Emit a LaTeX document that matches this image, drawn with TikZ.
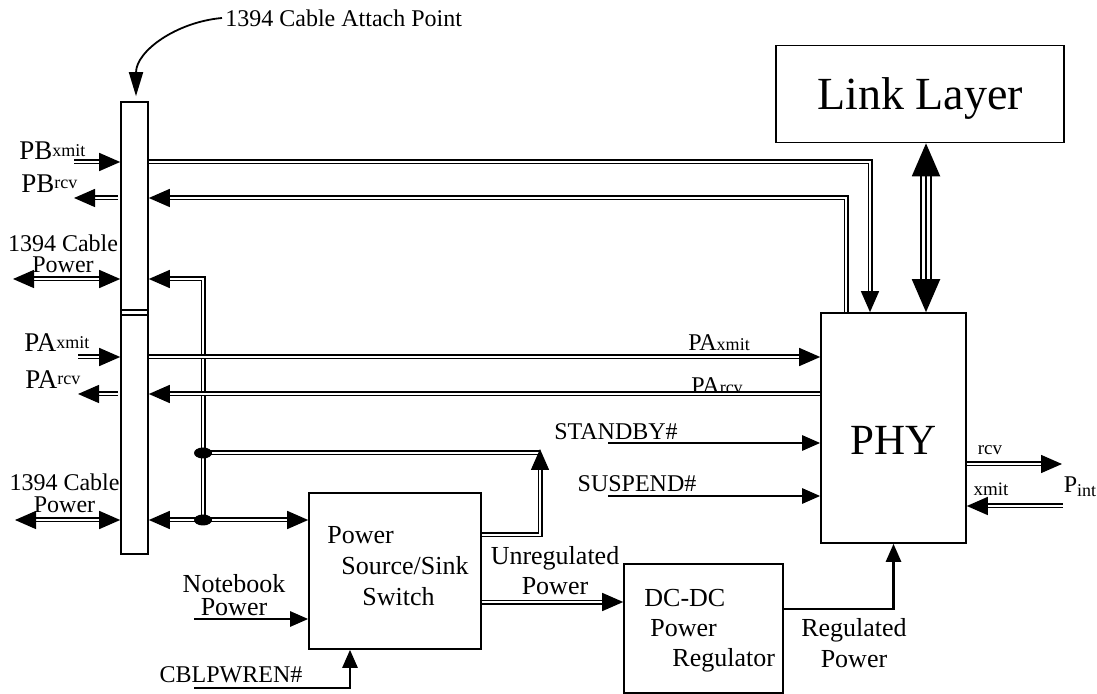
\documentclass[tikz,border=0pt]{standalone}
\usepackage{fontspec}
\setmainfont{Liberation Serif}
\usetikzlibrary{calc}
\usetikzlibrary{arrows.meta}
\newcommand{\portname}[3]{#1\raisebox{#3}{\fontsize{9}{9}\selectfont #2}}

\begin{document}
\begin{tikzpicture}[
		x=0.5pt, y=-0.5pt,
		box/.style = {draw, line width=0.8pt, inner sep=0pt},
		boxtext/.style = {inner sep=0pt, align=left, font=\fontsize{13}{15.5}\selectfont},
		txt/.style = {inner sep=0pt, align=center, font=\fontsize{12}{10.5}\selectfont},
		port/.style = {inner sep=0pt, font=\fontsize{13.5}{13.5}\selectfont},
		small/.style = {inner sep=0pt, font=\fontsize{9.5}{9.5}\selectfont},
		bus/.style = {
			double,
			line width=0.7pt,
			double distance=1.1pt,
			>={Triangle[length=10.5pt,width=9pt]}
		},
		bigbus/.style = {
			double,
			line width=1pt,
			double distance=4pt,
			>={Triangle[length=16.5pt,width=14pt]}
		},
		sig/.style = {
			line width=1.3pt,
			>={Triangle[length=9pt,width=7.5pt]}
		}
		]
		\useasboundingbox (0,0) rectangle (1097,694);

		\node[box, minimum width=13.5pt, minimum height=226pt] (bar) at (134.5,328) {};
		\node[box, minimum width=144pt, minimum height=48.5pt, text depth=0pt,
			font=\fontsize{23}{23}\selectfont] (link) at (920,94) {Link Layer};
		\node[box, minimum width=72.5pt, minimum height=115pt] (phy) at (893.5,428) {};
		\node[inner sep=0pt, font=\fontsize{21.5}{21.5}\selectfont] (phytext) at (893.5,440) {PHY};
		\node[box, minimum width=86pt, minimum height=78pt] (switch) at (395,571) {};
		\node[boxtext, anchor=west] (switchtext) at (327,566) {Power\\\hspace*{7pt}Source/Sink\\\hspace*{17.5pt}Switch};
		\node[box, minimum width=79.5pt, minimum height=64.5pt] (dcdc) at (703.5,628.5) {};
		\node[boxtext, anchor=west, font=\fontsize{13}{15}\selectfont] (dcdctext) at (644,631) {DC-DC\\\hspace*{3pt}Power\\\hspace*{14pt}Regulator};

		\node[txt, anchor=west] (attach) at (225,18) {1394 Cable Attach Point};
		\node[port, anchor=west] (pbx) at (19,151) {\portname{PB}{xmit}{1.5pt}};
		\node[port, anchor=west] (pbr) at (21,184) {\portname{PB}{rcv}{2pt}};
		\node[port, anchor=west] (pax) at (24,343) {\portname{PA}{xmit}{1.5pt}};
		\node[port, anchor=west] (par) at (25,380) {\portname{PA}{rcv}{2pt}};
		\node[txt] (cabletop) at (63,254) {1394 Cable\\Power};
		\node[txt, font=\fontsize{12}{11}\selectfont] (cablebot) at (64.5,493) {1394 Cable\\Power};
		\node[txt, font=\fontsize{13}{11.5}\selectfont] (notebook) at (234,595) {Notebook\\Power};
		\node[txt] (cblpwren) at (231,675) {CBLPWREN\#};
		\node[txt] (standby) at (616,432) {STANDBY\#};
		\node[txt] (suspend) at (637,484) {SUSPEND\#};
		\node[txt, font=\fontsize{13}{15}\selectfont] (unreg) at (555,571) {Unregulated\\Power};
		\node[txt, font=\fontsize{13}{15.5}\selectfont] (reg) at (854,643) {Regulated\\Power};
		\node[port, font=\fontsize{12}{12}\selectfont] (paxphy) at (719,343) {\portname{PA}{xmit}{0pt}};
		\node[port, font=\fontsize{12}{12}\selectfont] (parphy) at (717,386) {\portname{PA}{rcv}{0pt}};
		\node[small] (rcv) at (990,450) {rcv};
		\node[small] (xmit) at (991,489) {xmit};
		\node[txt] (pint) at (1080,487) {P\raisebox{-2pt}{\fontsize{9}{9}\selectfont int}};

		\coordinate (pbxin) at (74,162);
		\coordinate (pbrout) at (74,198);
		\coordinate (paxin) at (78,357);
		\coordinate (parout) at (78,394);
		\coordinate (cpt) at (13,279);
		\coordinate (cpb) at (15,520);
		\coordinate (jup) at (203,453);
		\coordinate (jlow) at (203,520);
		\coordinate (uout) at (540,449);
		\coordinate (sby) at (608,443);
		\coordinate (ssp) at (608,496);
		\coordinate (nbp) at (194,619);
		\coordinate (cbl) at (194,688);
		\coordinate (rcvout) at (1062,464);
		\coordinate (xmitin) at (1063,506);

		\draw[line width=0.8pt] (bar.west |- 0,310) -- (bar.east |- 0,310);
		\draw[line width=0.8pt] (bar.west |- 0,315) -- (bar.east |- 0,315);
		\draw[line width=0.9pt, -{Triangle[length=12pt,width=7pt]}]
			([xshift=-1.5pt]attach.west) to[out=185,in=90] ($(bar.north)+(1.5,-5)$);

		\draw[bus,->] (pbxin) -- (bar.west |- pbxin);
		\draw[bus,->] ($(bar.west |- pbrout)+(-2,0)$) -- (pbrout);
		\draw[bus,->] (bar.east |- pbxin) -| ($(phy.north)+(-23.5,0)$);
		\draw[bus,->] ($(phy.north)+(-47.5,0)$) |- (bar.east |- pbrout);

		\draw[bigbus,<->] ($(link.south)+(6,0)$) -- ($(phy.north)+(32.5,0)$);
		\draw[line width=1pt, shorten <=15pt, shorten >=15pt] ($(link.south)+(6,0)$) -- ($(phy.north)+(32.5,0)$);

		\draw[bus,<->] (cpt) -- (bar.west |- cpt);
		\draw[bus,->] (jlow) -- (jlow |- cpt) -- (bar.east |- cpt);
		\draw[bus,->] (paxin) -- (bar.west |- paxin);
		\draw[bus,->] ($(bar.west |- parout)+(-2,0)$) -- (parout);
		\draw[bus,->] (bar.east |- paxin) -- (phy.west |- paxin);
		\draw[bus,->] (phy.west |- parout) -- (bar.east |- parout);

		\draw[bus] (jup) -- (jup -| uout);
		\draw[bus,->] (switch.east |- 0,535) -| (uout);
		\draw[bus,<->] (bar.east |- jlow) -- (switch.west |- jlow);
		\draw[bus,<->] (cpb) -- (bar.west |- cpb);
		\fill (jup) ellipse [x radius=4.5pt, y radius=2.75pt];
		\fill (jlow) ellipse [x radius=4.5pt, y radius=2.75pt];

		\draw[sig,->] (sby) -- (phy.west |- sby);
		\draw[sig,->] (ssp) -- (phy.west |- ssp);
		\draw[sig,->] (nbp) -- (switch.west |- nbp);
		\draw[sig,->] (cbl) -| ($(switch.south)+(-45,0)$);
		\draw[bus,->] (switch.east |- 0,602) -- (dcdc.west |- 0,602);
		\draw[sig,->] (dcdc.east |- 0,609) -| (phy.south);
		\draw[bus,->] (phy.east |- rcvout) -- (rcvout);
		\draw[bus,->] (xmitin) -- (phy.east |- xmitin);
	\end{tikzpicture}
\end{document}
